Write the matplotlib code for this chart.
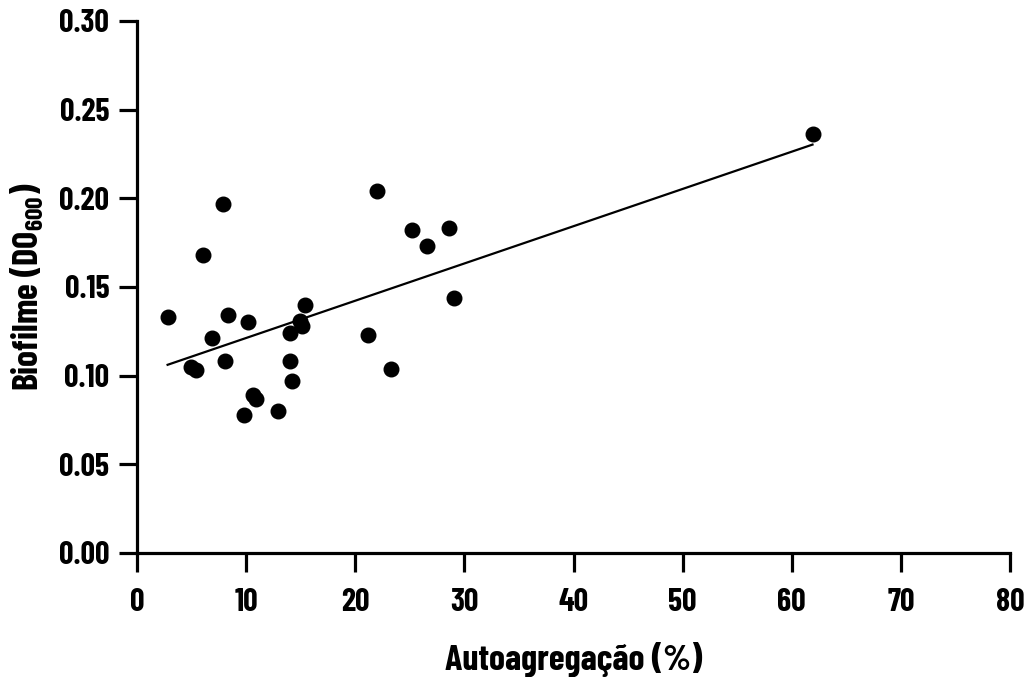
import numpy as np
import matplotlib
matplotlib.use('Agg')
import matplotlib.pyplot as plt

plt.rcParams['font.family'] = ['Barlow Condensed', 'Roboto Condensed', 'DejaVu Sans']
plt.rcParams['font.weight'] = 'bold'

# autoagregacao (%) vs biofilme (DO600)
autoagregacao = [7.9, 6.0, 2.8, 8.3, 10.2, 15.4, 14.9, 15.1, 14.0, 6.9,
                 4.9, 5.4, 8.1, 14.0, 14.2, 10.6, 10.9, 9.8, 12.9,
                 22.0, 25.2, 28.6, 26.6, 29.0, 21.2, 23.3, 61.9]
biofilme = [0.197, 0.168, 0.133, 0.134, 0.130, 0.140, 0.131, 0.128, 0.124, 0.121,
            0.105, 0.103, 0.108, 0.108, 0.097, 0.089, 0.087, 0.078, 0.080,
            0.204, 0.182, 0.183, 0.173, 0.144, 0.123, 0.104, 0.236]

xticks = [0, 10, 20, 30, 40, 50, 60, 70, 80]
yticks = [0.00, 0.05, 0.10, 0.15, 0.20, 0.25, 0.30]

x = np.array(autoagregacao)
y = np.array(biofilme)
slope, intercept = np.polyfit(x, y, 1)
xfit = np.array([x.min(), x.max()])

fig = plt.figure(figsize=(10.32, 6.77), dpi=100)
ax = fig.add_axes([0.1328, 0.1832, 0.8459, 0.7858])

ax.plot(xfit, slope * xfit + intercept, color='black', lw=1.6, zorder=2)
ax.scatter(x, y, s=110, color='black', zorder=3, clip_on=False)

ax.set_xlim(0, 80)
ax.set_ylim(0, 0.30)
ax.set_xticks(xticks)
ax.set_yticks(yticks)
ax.set_yticklabels([f'{t:.2f}' for t in yticks])

for s in ['top', 'right']:
    ax.spines[s].set_visible(False)
for s in ['left', 'bottom']:
    ax.spines[s].set_linewidth(2.3)
ax.tick_params(width=2.3, length=13, labelsize=23, pad=7)
ax.tick_params(axis='x', length=14, pad=11)

ax.set_xlabel('Autoagregação (%)', fontsize=26, fontweight='bold', labelpad=18)
ax.set_ylabel(r'Biofilme ($\mathregular{DO_{600})}$', fontsize=26, fontweight='bold', labelpad=9)

fig.savefig('out.png', dpi=100)
